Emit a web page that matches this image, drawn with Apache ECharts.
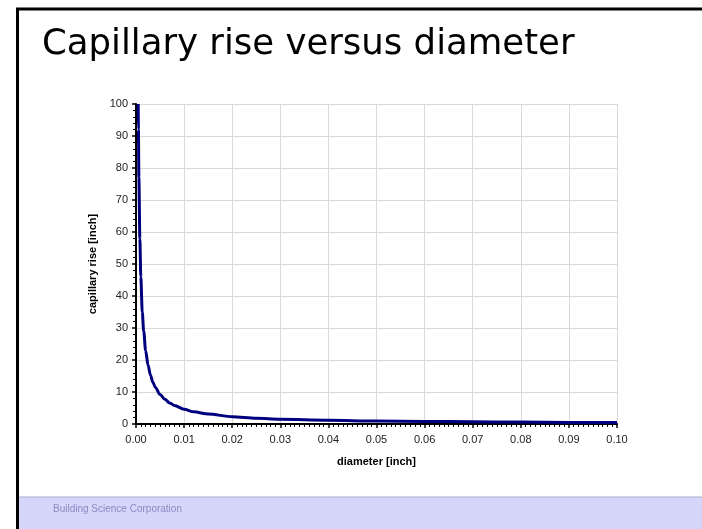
<!DOCTYPE html>
<html>
<head>
<meta charset="utf-8">
<script src="https://cdn.jsdelivr.net/npm/echarts@6/dist/echarts.min.js"></script>
<style>
  html, body { margin: 0; padding: 0; background: #fff; }
  #chart { width: 702px; height: 529px; }
</style>
</head>
<body>
<div id="chart"></div>
<script>
// values (diameter in inch, capillary rise in inch)
const diameter = [0.00046, 0.0005, 0.0006, 0.0008, 0.001, 0.0013, 0.0016, 0.002, 0.0025, 0.003, 0.0035, 0.004, 0.005, 0.006, 0.007, 0.008, 0.01, 0.012, 0.015, 0.02, 0.025, 0.03, 0.04, 0.05, 0.06, 0.07, 0.08, 0.09, 0.1];
const rise = [100, 92, 77, 58, 46, 35, 29, 23, 18.4, 15.3, 13.1, 11.5, 9.2, 7.7, 6.6, 5.8, 4.6, 3.8, 3.1, 2.3, 1.8, 1.5, 1.2, 0.9, 0.8, 0.7, 0.6, 0.5, 0.5];
const xTicks = ['0.00', '0.01', '0.02', '0.03', '0.04', '0.05', '0.06', '0.07', '0.08', '0.09', '0.10'];

const chart = echarts.init(document.getElementById('chart'));

chart.setOption({
  animation: false,
  title: {
    text: 'Capillary rise versus diameter',
    left: 37,
    top: 22,
    textStyle: {
      fontFamily: 'DejaVu Sans',
      fontSize: 35.5,
      fontWeight: 'normal',
      color: '#000'
    }
  },
  graphic: [
    { type: 'rect', shape: { x: 17, y: 497, width: 690, height: 40 }, style: { fill: '#d6d6fa' }, z: -1 },
    { type: 'line', shape: { x1: 17, y1: 497, x2: 702, y2: 497 }, style: { stroke: '#a8a8c8', lineWidth: 1 } },
    { type: 'line', shape: { x1: 17.5, y1: 8, x2: 17.5, y2: 529 }, style: { stroke: '#000', lineWidth: 3 } },
    { type: 'line', shape: { x1: 16, y1: 9, x2: 702, y2: 9 }, style: { stroke: '#000', lineWidth: 3 } },
    {
      type: 'text', left: 53, top: 504,
      style: { text: 'Building Science Corporation', fontFamily: 'Liberation Sans', fontSize: 10, fill: '#8a8ac4' }
    }
  ],
  grid: { left: 136, right: 85, top: 104, bottom: 105 },
  xAxis: {
    type: 'value',
    min: 0,
    max: 0.1,
    interval: 0.01,
    name: 'diameter [inch]',
    nameLocation: 'middle',
    nameGap: 32,
    nameTextStyle: { fontFamily: 'Liberation Sans', fontSize: 11, fontWeight: 'bold', color: '#000' },
    axisLine: { onZero: false, lineStyle: { color: '#000', width: 2 } },
    axisTick: { show: true, length: 4, lineStyle: { color: '#000', width: 1.5 } },
    minorTick: { show: true, splitNumber: 10, length: 3, lineStyle: { color: '#000' } },
    axisLabel: {
      fontFamily: 'Liberation Sans', fontSize: 11, color: '#222', margin: 10,
      formatter: (v) => xTicks[Math.round(v * 100)]
    },
    splitLine: { show: true, lineStyle: { color: '#d9d9d9', width: 1 } }
  },
  yAxis: {
    type: 'value',
    min: 0,
    max: 100,
    interval: 10,
    name: 'capillary rise [inch]',
    nameLocation: 'middle',
    nameGap: 38,
    nameTextStyle: { fontFamily: 'Liberation Sans', fontSize: 11, fontWeight: 'bold', color: '#000' },
    axisLine: { show: true, lineStyle: { color: '#000', width: 2 } },
    axisTick: { show: true, length: 4, lineStyle: { color: '#000', width: 1.5 } },
    minorTick: { show: true, splitNumber: 5, length: 3, lineStyle: { color: '#000' } },
    axisLabel: { fontFamily: 'Liberation Sans', fontSize: 11, color: '#222', margin: 8 },
    splitLine: { show: true, lineStyle: { color: '#d9d9d9', width: 1 } }
  },
  series: [{
    type: 'line',
    data: diameter.map((d, i) => [d, rise[i]]),
    smooth: 0.3,
    smoothMonotone: 'x',
    showSymbol: false,
    lineStyle: { color: '#00007f', width: 3 },
    z: 3
  }]
});
</script>
</body>
</html>
